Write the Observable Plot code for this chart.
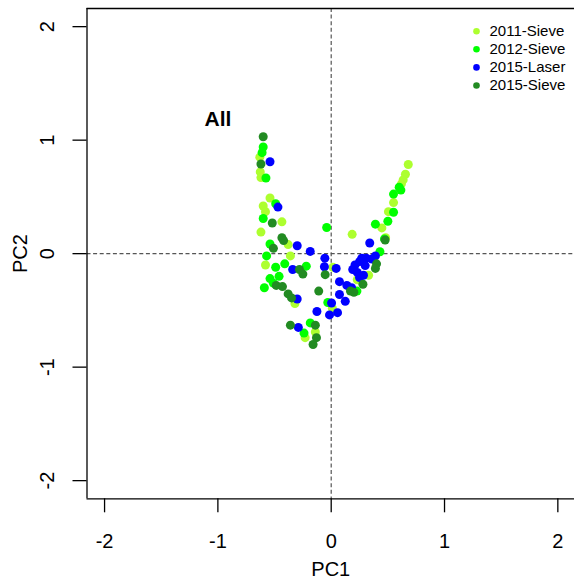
<!DOCTYPE html>
<html>
<head>
<meta charset="utf-8">
<script src="https://cdn.jsdelivr.net/npm/d3@7"></script>
<script src="https://cdn.jsdelivr.net/npm/@observablehq/plot@0.6"></script>
<style>
  html, body { margin: 0; padding: 0; background: #fff; }
  #chart { width: 574px; height: 583px; }
  svg { font-family: "Liberation Sans", Arial, sans-serif; }
</style>
</head>
<body>
<div id="chart"></div>
<script>
// ---- data ----
const seriesNames = ["2011-Sieve", "2012-Sieve", "2015-Laser", "2015-Sieve"];
const seriesColors = ["#ADFF2F", "#00FF00", "#0000FF", "#228B22"];

const sieve2011 = [
  [-0.63,0.85],[-0.626,0.72],[-0.62,0.67],[-0.54,0.49],[-0.60,0.42],[-0.58,0.37],
  [-0.435,0.28],[-0.62,0.19],[-0.38,0.08],[-0.36,-0.02],[-0.58,-0.10],[0.015,-0.12],
  [-0.32,-0.44],[0.01,-0.48],[-0.23,-0.74],[-0.14,-0.69],[0.185,0.17],
  [0.68,0.785],[0.655,0.70],[0.635,0.65],[0.62,0.615],[0.55,0.45],[0.505,0.37],
  [0.447,0.227],[0.48,0.14],[0.33,-0.19],[0.23,-0.23]
];
const sieve2012 = [
  [-0.60,0.94],[-0.61,0.89],[-0.576,0.667],[-0.49,0.44],[-0.60,0.31],[-0.54,0.085],
  [-0.57,-0.02],[-0.49,-0.12],[-0.41,-0.09],[-0.22,-0.11],[-0.46,-0.20],[-0.54,-0.22],
  [-0.59,-0.30],[-0.51,-0.26],[-0.04,0.23],[-0.185,-0.61],[-0.24,-0.70],[-0.03,-0.43],
  [0.615,0.56],[0.60,0.585],[0.55,0.525],[0.55,0.365],[0.50,0.285],[0.39,0.26],
  [0.43,0.017],[0.47,0.13],[0.227,-0.33]
];
const laser2015 = [
  [-0.54,0.81],[-0.47,0.41],[-0.30,0.07],[-0.185,0.02],[-0.056,-0.04],[-0.06,-0.115],
  [-0.34,-0.14],[-0.30,-0.40],[-0.126,-0.51],[-0.29,-0.65],[0.044,-0.13],[0.34,0.094],
  [0.27,-0.04],[0.31,-0.04],[0.36,-0.047],[0.39,-0.02],[0.19,-0.14],[0.23,-0.165],
  [0.25,-0.21],[0.285,-0.19],[0.30,-0.105],[0.21,-0.10],[0.25,-0.07],[0.073,-0.247],
  [0.138,-0.28],[0.18,-0.30],[0.073,-0.36],[0.124,-0.42],[-0.015,-0.54],[0.056,-0.52],
  [0.003,-0.435]
];
const sieve2015 = [
  [-0.60,1.03],[-0.62,0.79],[-0.52,0.27],[-0.435,0.14],[-0.42,0.115],[-0.51,0.047],
  [-0.28,-0.14],[-0.25,-0.18],[-0.053,-0.185],[-0.485,-0.28],[-0.43,-0.29],[-0.38,-0.355],
  [-0.35,-0.39],[-0.11,-0.33],[-0.36,-0.63],[-0.14,-0.63],[-0.13,-0.74],[-0.16,-0.80],
  [0.476,0.12],[0.40,-0.09],[0.39,-0.13],[0.28,-0.27],[0.17,-0.33],[0.2,-0.34]
];
const seriesData = [sieve2011, sieve2012, laser2015, sieve2015];

const xTicks = [-2, -1, 0, 1, 2];
const yTicks = [-2, -1, 0, 1, 2];
const xDomain = [-2.155, 2.147];
const yDomain = [-2.16, 2.16];
const xTitle = "PC1";
const yTitle = "PC2";
const annotation = [{x: -1.0, y: 1.18, text: "All"}];

// ---- build table ----
const points = seriesData.flatMap((arr, i) =>
  arr.map(([x, y]) => ({x, y, series: seriesNames[i]})));

const font = "Liberation Sans, Arial, sans-serif";
const legendMarks = seriesNames.flatMap((name, i) => [
  Plot.dot([name], {frameAnchor: "top-left", dx: 389.5, dy: 22.7 + i * 18.1,
    r: 3.3, fill: seriesColors[i], stroke: "none"}),
  Plot.text([name], {frameAnchor: "top-left", dx: 402.5, dy: 22.7 + i * 18.1,
    text: d => d, textAnchor: "start", lineAnchor: "middle", fontSize: 15, fill: "black"})
]);

const chart = Plot.plot({
  width: 574,
  height: 583,
  marginLeft: 86.5,
  marginRight: 0,
  marginTop: 8,
  marginBottom: 84.7,
  style: {fontFamily: font, background: "white"},
  x: {domain: xDomain},
  y: {domain: yDomain},
  color: {domain: seriesNames, range: seriesColors},
  marks: [
    Plot.ruleY([0], {stroke: "#555", strokeDasharray: "4,2.6", strokeWidth: 1.2}),
    Plot.ruleX([0], {stroke: "#555", strokeDasharray: "4,2.6", strokeWidth: 1.2}),
    Plot.dot(points, {x: "x", y: "y", fill: "series", r: 4.5, stroke: "none"}),
    Plot.text(annotation, {x: "x", y: "y", text: "text", fontSize: 21, fontWeight: "bold",
      lineAnchor: "middle", textAnchor: "middle", fill: "black"}),
    ...legendMarks,
    Plot.ruleX([xDomain[0]], {stroke: "black", strokeWidth: 1.3}),
    Plot.ruleY([yDomain[0], yDomain[1]], {stroke: "black", strokeWidth: 1.3}),
    Plot.axisX(xTicks, {tickSize: 14, tickPadding: 21, fontSize: 20, label: null,
      tickFormat: d => String(d), strokeWidth: 1.3, fill: "black", stroke: "black"}),
    Plot.axisY(yTicks, {anchor: "left", tickSize: 14, text: null, label: null,
      strokeWidth: 1.3, stroke: "black"}),
    Plot.text(yTicks, {y: d => d, text: d => String(d), frameAnchor: "left", dx: -33.2,
      rotate: -90, lineAnchor: "bottom", textAnchor: "middle", fontSize: 20, fill: "black"}),
    Plot.text([yTitle], {frameAnchor: "left", dx: -59.8, text: d => d, rotate: -90,
      lineAnchor: "bottom", textAnchor: "middle", fontSize: 20, fill: "black"}),
    Plot.text([xTitle], {frameAnchor: "bottom", dy: 77, text: d => d,
      lineAnchor: "bottom", textAnchor: "middle", fontSize: 20, fill: "black"})
  ]
});
document.getElementById("chart").appendChild(chart);
</script>
</body>
</html>
